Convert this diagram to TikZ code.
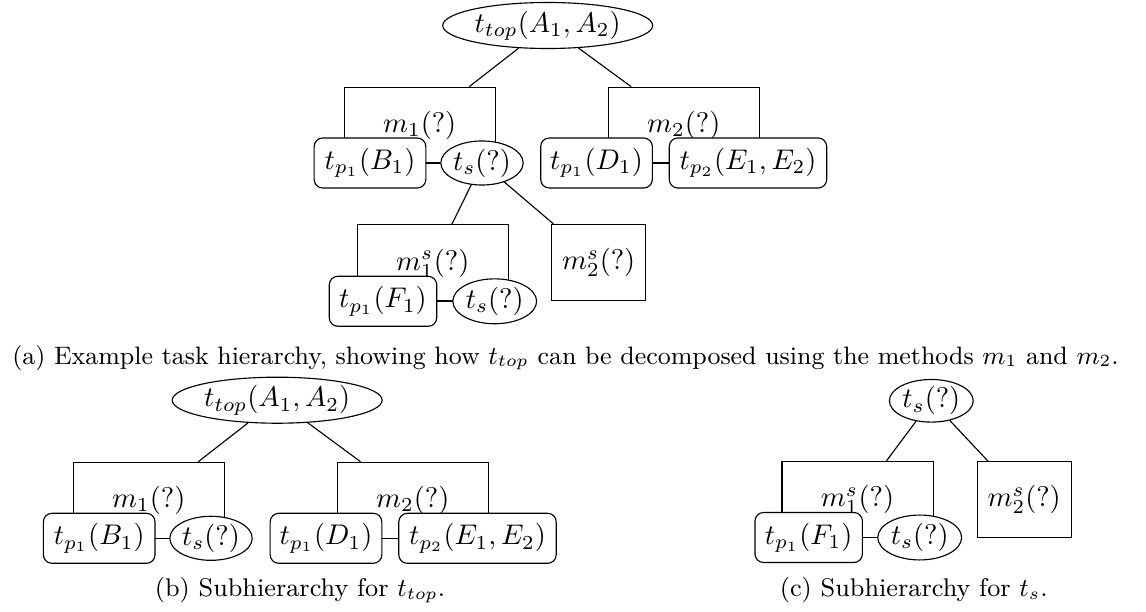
\documentclass[tikz,border=0pt]{standalone}
\usetikzlibrary{shapes.geometric}
\begin{document}
\begin{tikzpicture}[x=0.352pt,y=-0.352pt,
  task/.style={draw, ellipse, inner sep=0pt, fill=white},
  prim/.style={draw, rectangle, rounded corners=3pt, inner sep=0pt, fill=white, minimum height=17.6pt},
  meth/.style={draw, rectangle, inner sep=0pt, minimum height=26.8pt},
  wide/.style={minimum width=53.2pt},
  capt/.style={anchor=base, font=\small, inner sep=0pt}]
\useasboundingbox (0,0) rectangle (1146,612);

% ---------------- (a) ----------------
\node[meth, wide] (m1A) at (419.7,125.3) {$m_1(?)$};
\node[meth, wide] (m2A) at (683.8,125.3) {$m_2(?)$};
\node[meth, wide] (m1sA) at (432.8,263) {$m^s_1(?)$};
\node[meth, minimum width=33.1pt] (m2sA) at (598.7,262.5) {$m^s_2(?)$};

\node[task, minimum width=73.9pt, minimum height=16.2pt] (ttopA) at (547.7,25.5) {$t_{top}(A_1, A_2)$};
\node[prim, minimum width=39.3pt] (tp1B) at (370,163) {$t_{p_1}(B_1)$};
\node[task, minimum width=29pt, minimum height=15.5pt] (tsA) at (482,163) {$t_s(?)$};
\node[prim, minimum width=39.3pt] (tp1D) at (596.5,163) {$t_{p_1}(D_1)$};
\node[prim, minimum width=55.4pt] (tp2E) at (748,163) {$t_{p_2}(E_1, E_2)$};
\node[prim, minimum width=37.8pt] (tp1F) at (383,301.3) {$t_{p_1}(F_1)$};
\node[task, minimum width=29.5pt, minimum height=15.8pt] (tsA2) at (494.7,301.3) {$t_s(?)$};

\draw (ttopA) -- (m1A);
\draw (ttopA) -- (m2A);
\draw (tsA) -- (m1sA);
\draw (tsA) -- (m2sA);
\draw (tp1B) -- (tsA);
\draw (tp1D) -- (tp2E);
\draw (tp1F) -- (tsA2);

\node[capt, font=\fontsize{8.88}{10.5}\selectfont] (capA) at (565.5,364) {(a) Example task hierarchy, showing how $t_{top}$ can be decomposed using the methods $m_1$ and $m_2$.};

% ---------------- (b) ----------------
\node[meth, wide] (m1B) at (148.8,500.3) {$m_1(?)$};
\node[meth, wide] (m2B) at (412.8,500.3) {$m_2(?)$};

\node[task, minimum width=73.9pt, minimum height=16.2pt] (ttopB) at (277.2,400.2) {$t_{top}(A_1, A_2)$};
\node[prim, minimum width=39.3pt] (tp1BB) at (99.2,538.3) {$t_{p_1}(B_1)$};
\node[task, minimum width=29pt, minimum height=15.5pt] (tsB) at (211,538.3) {$t_s(?)$};
\node[prim, minimum width=39.3pt] (tp1DB) at (326,538.3) {$t_{p_1}(D_1)$};
\node[prim, minimum width=55.4pt] (tp2EB) at (477.5,538.3) {$t_{p_2}(E_1, E_2)$};

\draw (ttopB) -- (m1B);
\draw (ttopB) -- (m2B);
\draw (tp1BB) -- (tsB);
\draw (tp1DB) -- (tp2EB);

\node[capt] (capB) at (300,596.7) {(b) Subhierarchy for $t_{top}$.};

% ---------------- (c) ----------------
\node[meth, wide] (m1sC) at (857.5,499.7) {$m^s_1(?)$};
\node[meth, minimum width=33.1pt] (m2sC) at (1024.2,499.7) {$m^s_2(?)$};

\node[task, minimum width=29.5pt, minimum height=15pt] (tsC) at (931.3,400.8) {$t_s(?)$};
\node[prim, minimum width=37.8pt] (tp1FC) at (808.7,537.5) {$t_{p_1}(F_1)$};
\node[task, minimum width=29.5pt, minimum height=15.8pt] (tsC2) at (919.7,537.5) {$t_s(?)$};

\draw (tsC) -- (m1sC);
\draw (tsC) -- (m2sC);
\draw (tp1FC) -- (tsC2);

\node[capt] (capC) at (913.7,596.7) {(c) Subhierarchy for $t_s$.};
\end{tikzpicture}
\end{document}
